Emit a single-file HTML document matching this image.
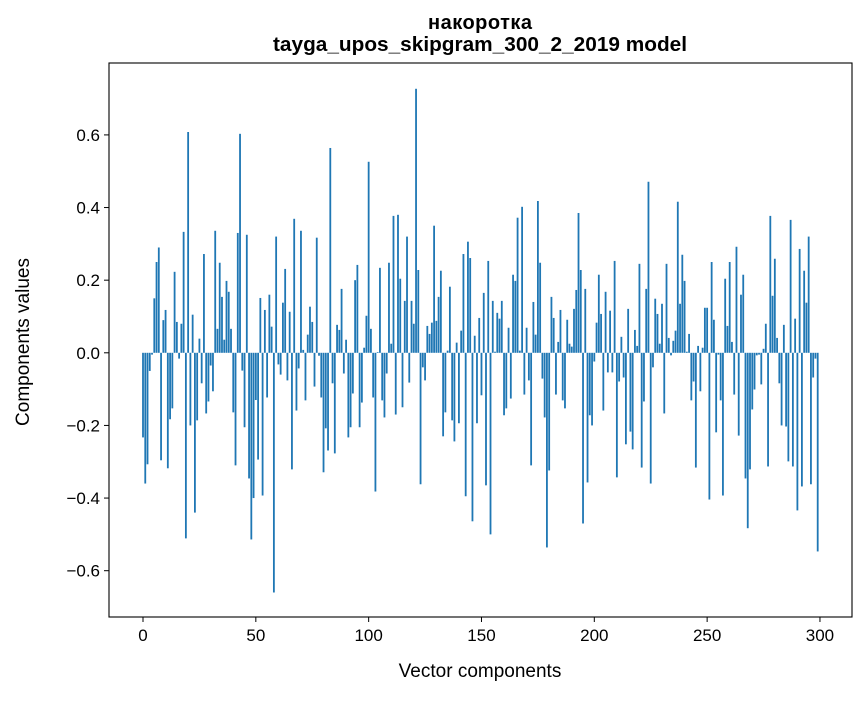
<!DOCTYPE html>
<html><head><meta charset="utf-8"><style>
html,body{margin:0;padding:0;background:#fff;}
svg text{font-family:"Liberation Sans","DejaVu Sans",sans-serif;fill:#000;}
</style></head><body>
<svg id="chart" width="867" height="696" viewBox="0 0 867 696" xmlns="http://www.w3.org/2000/svg">
<rect width="867" height="696" fill="#fff"/>
<text x="480" y="29" text-anchor="middle" font-size="20" font-weight="bold" textLength="104">накоротка</text>
<text x="480" y="51" text-anchor="middle" font-size="20" font-weight="bold" textLength="414" lengthAdjust="spacingAndGlyphs">tayga_upos_skipgram_300_2_2019 model</text>
<g id="bars"></g>
<g id="axes"></g>
<text x="480" y="677" text-anchor="middle" font-size="19">Vector components</text>
<text transform="translate(29,342) rotate(-90)" text-anchor="middle" font-size="19">Components values</text>
</svg>
<script>
const values = [
-0.233,-0.36,-0.307,-0.05,-0.005,0.15,0.25,0.29,-0.296,0.09,
0.118,-0.318,-0.183,-0.153,0.223,0.085,-0.016,0.08,0.333,-0.511,
0.608,-0.2,0.105,-0.44,-0.186,0.039,-0.084,0.272,-0.167,-0.134,
-0.035,-0.106,0.336,0.066,0.248,0.154,0.036,0.198,0.168,0.066,
-0.164,-0.31,0.33,0.603,-0.049,-0.205,0.325,-0.346,-0.514,-0.4,
-0.13,-0.294,0.151,-0.393,0.118,-0.123,0.16,0.072,-0.66,0.32,
-0.032,-0.06,0.138,0.231,-0.076,0.113,-0.321,0.369,-0.159,-0.043,
0.336,0.008,-0.131,0.05,0.127,0.085,-0.093,0.317,-0.008,-0.123,
-0.329,-0.208,-0.269,0.564,-0.084,-0.277,0.077,0.063,0.176,-0.057,
0.036,-0.233,-0.205,-0.112,0.2,0.242,-0.205,-0.137,0.014,0.102,
0.526,0.066,-0.123,-0.382,0.002,0.234,-0.131,-0.178,-0.057,0.248,
0.025,0.377,-0.17,0.38,0.204,-0.15,0.143,0.32,-0.082,0.143,
0.08,0.727,0.228,-0.362,-0.04,-0.076,0.074,0.052,0.083,0.35,
0.088,0.154,0.226,-0.23,-0.164,0.006,0.182,-0.186,-0.244,0.028,
-0.194,0.061,0.272,-0.395,0.306,0.261,-0.464,0.047,-0.194,0.096,
-0.117,0.165,-0.365,0.253,-0.5,0.143,0.003,0.11,0.094,0.143,
-0.172,-0.153,0.069,-0.126,0.215,0.198,0.372,0.006,0.402,-0.115,
0.069,-0.076,-0.31,0.14,0.05,0.418,0.248,-0.071,-0.178,-0.536,
-0.324,0.154,0.096,-0.115,0.03,0.118,-0.131,-0.153,0.091,0.025,
0.017,0.121,0.173,0.385,0.228,-0.47,0.176,-0.357,-0.172,-0.2,
-0.024,0.083,0.215,0.107,-0.159,0.168,-0.054,0.116,-0.054,0.253,
-0.343,-0.079,0.044,-0.068,-0.252,0.121,-0.217,-0.266,0.063,0.019,
0.245,-0.316,-0.134,0.176,0.471,-0.36,-0.04,0.149,0.107,0.025,
0.135,-0.167,0.245,0.041,-0.007,0.033,0.061,0.416,0.135,0.27,
0.198,0.003,0.052,-0.131,-0.079,-0.316,0.019,-0.106,0.014,0.124,
0.124,-0.404,0.25,0.091,-0.219,-0.005,-0.131,-0.393,0.204,0.074,
0.25,0.03,-0.115,0.292,-0.228,0.16,0.215,-0.346,-0.483,-0.321,
-0.156,-0.101,-0.007,-0.005,-0.087,0.011,0.08,-0.313,0.377,0.157,
0.259,0.041,-0.084,-0.2,0.077,-0.203,-0.299,0.366,-0.313,0.094,
-0.434,0.286,-0.368,0.226,0.138,0.32,-0.362,-0.068,-0.016,-0.547
];
const xTicks = [0,50,100,150,200,250,300];
const yTicks = [-0.6,-0.4,-0.2,0.0,0.2,0.4,0.6];
const yTickLabels = ["\u22120.6","\u22120.4","\u22120.2","0.0","0.2","0.4","0.6"];

const L=109,R=852,T=63,B=617;
const xMin=-15.07,xMax=314.2,yMin=-0.7275,yMax=0.798;
function xs(v){return L+(v-xMin)/(xMax-xMin)*(R-L);}
function ys(v){return T+(yMax-v)/(yMax-yMin)*(B-T);}
const NS="http://www.w3.org/2000/svg";
const bars=document.getElementById('bars');
values.forEach((v,i)=>{
  const r=document.createElementNS(NS,'rect');
  const x0=xs(i-0.4),x1=xs(i+0.4);
  const y0=ys(Math.max(v,0)),y1=ys(Math.min(v,0));
  r.setAttribute('x',x0);r.setAttribute('width',x1-x0);
  r.setAttribute('y',y0);r.setAttribute('height',Math.max(y1-y0,0.01));
  r.setAttribute('fill','#1f77b4');
  
  
  bars.appendChild(r);
});
const axes=document.getElementById('axes');
const frame=document.createElementNS(NS,'rect');
frame.setAttribute('x',L);frame.setAttribute('y',T);frame.setAttribute('width',R-L);frame.setAttribute('height',B-T);
frame.setAttribute('fill','none');frame.setAttribute('stroke','#000');frame.setAttribute('stroke-width','1.1');


axes.appendChild(frame);
xTicks.forEach(t=>{
  const x=xs(t);
  const l=document.createElementNS(NS,'line');
  l.setAttribute('x1',x);l.setAttribute('x2',x);l.setAttribute('y1',B);l.setAttribute('y2',B+5);l.setAttribute('stroke','#000');
  
  
  axes.appendChild(l);
  const tx=document.createElementNS(NS,'text');
  tx.setAttribute('x',x);tx.setAttribute('y',B+24);tx.setAttribute('text-anchor','middle');tx.setAttribute('font-size','17');
  tx.textContent=String(t);
  
  
  axes.appendChild(tx);
});
yTicks.forEach((t,i)=>{
  const y=ys(t);
  const l=document.createElementNS(NS,'line');
  l.setAttribute('x1',L-5);l.setAttribute('x2',L);l.setAttribute('y1',y);l.setAttribute('y2',y);l.setAttribute('stroke','#000');
  
  
  axes.appendChild(l);
  const tx=document.createElementNS(NS,'text');
  tx.setAttribute('x',L-9);tx.setAttribute('y',y+6);tx.setAttribute('text-anchor','end');tx.setAttribute('font-size','17');
  tx.textContent=yTickLabels[i];
  
  
  axes.appendChild(tx);
});
</script>
</body></html>
